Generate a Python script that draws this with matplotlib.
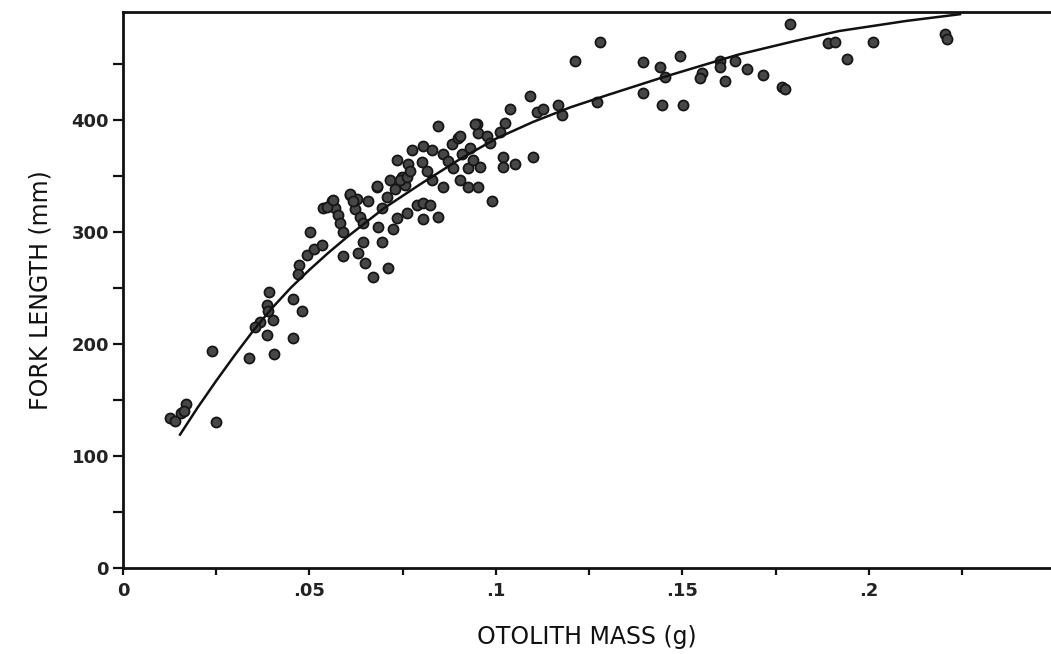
import numpy as np
import matplotlib

matplotlib.use('Agg')

import matplotlib.pyplot as plt
from matplotlib.ticker import MultipleLocator, FixedLocator, FixedFormatter

# otolith mass (g) and fork length (mm)
mass = [0.0126, 0.0139, 0.0155, 0.0169, 0.0164, 0.0249, 0.0239, 0.0338, 0.0386, 0.0405,
        0.0456, 0.0391, 0.0386, 0.0389, 0.0402, 0.0367, 0.0354, 0.0456, 0.0480, 0.0472,
        0.0469, 0.0493, 0.0512, 0.0534, 0.0590, 0.0501, 0.0536, 0.0560, 0.0568, 0.0576,
        0.0582, 0.0590, 0.0609, 0.0627, 0.0622, 0.0635, 0.0643, 0.0657, 0.0681, 0.0694,
        0.0708, 0.0729, 0.0748, 0.0756, 0.0630, 0.0643, 0.0649, 0.0670, 0.0694, 0.0710,
        0.0684, 0.0724, 0.0735, 0.0761, 0.0788, 0.0804, 0.0804, 0.0823, 0.0845, 0.0735,
        0.0764, 0.0775, 0.0804, 0.0828, 0.0716, 0.0743, 0.0761, 0.0802, 0.0815, 0.0828,
        0.0845, 0.0858, 0.0871, 0.0885, 0.0858, 0.0882, 0.0898, 0.0909, 0.0930, 0.0925,
        0.0938, 0.0957, 0.0903, 0.0925, 0.0952, 0.0949, 0.0952, 0.0976, 0.0984, 0.0989,
        0.1011, 0.1024, 0.1038, 0.1019, 0.1019, 0.1051, 0.1099, 0.1110, 0.1091, 0.1126,
        0.1166, 0.1177, 0.1212, 0.1279, 0.1271, 0.1394, 0.1440, 0.1394, 0.1453, 0.1445,
        0.1493, 0.1501, 0.1552, 0.1547, 0.1601, 0.1601, 0.1614, 0.1641, 0.1673, 0.1788,
        0.1716, 0.1767, 0.1775, 0.1890, 0.1909, 0.1941, 0.2011, 0.2204, 0.2209,
        0.0547, 0.0563, 0.0609, 0.0617, 0.0681, 0.0769, 0.0903, 0.0943]
length = [134, 131, 138, 146, 140, 130, 194, 187, 208, 191,
          205, 246, 235, 229, 221, 219, 215, 240, 229, 270,
          262, 279, 285, 288, 278, 300, 321, 327, 321, 315,
          308, 300, 333, 329, 320, 313, 308, 327, 340, 321,
          331, 338, 349, 342, 281, 291, 272, 260, 291, 268,
          304, 302, 312, 317, 324, 326, 311, 324, 313, 364,
          360, 373, 376, 373, 346, 346, 349, 362, 354, 346,
          394, 369, 363, 357, 340, 378, 384, 369, 375, 357,
          364, 358, 346, 340, 340, 396, 388, 385, 379, 327,
          389, 397, 409, 367, 358, 360, 367, 407, 421, 409,
          413, 404, 452, 469, 416, 451, 447, 424, 438, 413,
          457, 413, 442, 437, 452, 447, 434, 452, 445, 485,
          440, 429, 427, 468, 469, 454, 469, 476, 472,
          322, 328, 334, 327, 341, 354, 385, 396]

# fitted curve
curve_mass = [0.0153, 0.020, 0.025, 0.030, 0.035, 0.040, 0.045, 0.050, 0.055, 0.060,
              0.070, 0.080, 0.090, 0.100, 0.110, 0.120, 0.130, 0.145, 0.165, 0.180,
              0.192, 0.210, 0.2244]
curve_length = [119, 143, 167, 190, 212, 232, 250, 266, 281, 295,
                321, 343, 364, 383, 398, 411, 422, 438, 458, 470,
                479, 488, 494]

xtick_vals = [0, 0.05, 0.1, 0.15, 0.2]
xtick_labels = ['0', '.05', '.1', '.15', '.2']
ytick_vals = [0, 100, 200, 300, 400]
ytick_labels = ['0', '100', '200', '300', '400']

plt.rcParams['font.family'] = ['DejaVu Sans']

fig = plt.figure(figsize=(10.51, 6.54), dpi=100)
ax = fig.add_axes([0.117, 0.1315, 0.883, 0.8502])

ax.scatter(mass, length, s=52, facecolor='#474747', edgecolor='#151515',
           linewidths=1.3, zorder=3)
ax.plot(curve_mass, curve_length, color='#111111', lw=1.8, zorder=4,
        solid_joinstyle='round')

ax.set_xlim(0, 0.2488)
ax.set_ylim(0, 496)

ax.spines['right'].set_visible(False)
for s in ['left', 'bottom', 'top']:
    ax.spines[s].set_linewidth(2.0)
    ax.spines[s].set_color('#111111')

ax.xaxis.set_major_locator(FixedLocator(xtick_vals))
ax.xaxis.set_major_formatter(FixedFormatter(xtick_labels))
ax.xaxis.set_minor_locator(MultipleLocator(0.025))
ax.yaxis.set_major_locator(FixedLocator(ytick_vals))
ax.yaxis.set_major_formatter(FixedFormatter(ytick_labels))
ax.yaxis.set_minor_locator(MultipleLocator(50))

ax.tick_params(axis='x', which='both', direction='out', length=5, width=1.6,
               color='#111111', labelsize=13, pad=5)
ax.tick_params(axis='y', which='both', direction='out', length=7, width=1.6,
               color='#111111', labelsize=13, pad=3)
ax.tick_params(top=False, which='both')
for lab in ax.get_xticklabels() + ax.get_yticklabels():
    lab.set_fontweight('bold')
    lab.set_color('#222222')

ax.set_xlabel('OTOLITH MASS (g)', fontsize=17, labelpad=18, color='#111111')
ax.set_ylabel('FORK LENGTH (mm)', fontsize=17, labelpad=14, color='#111111')

fig.savefig('out.png', dpi=100)
